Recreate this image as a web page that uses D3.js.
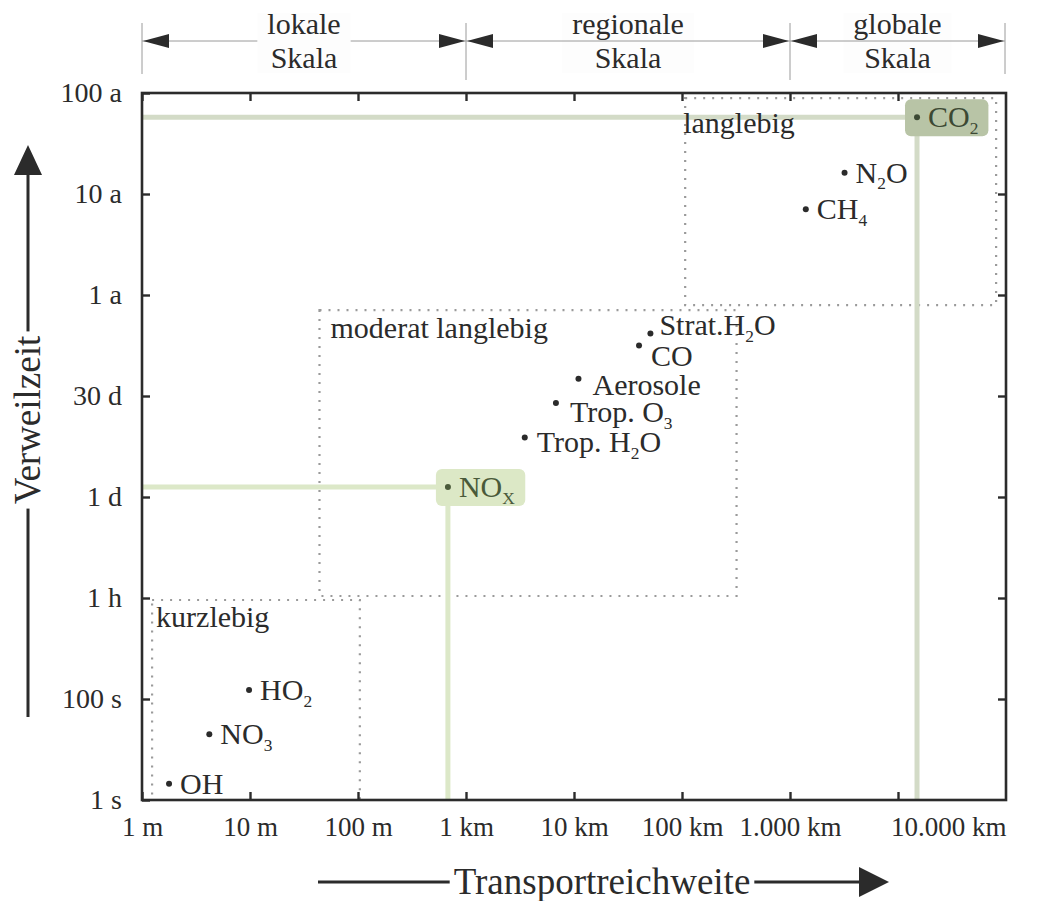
<!DOCTYPE html>
<html>
<head>
<meta charset="utf-8">
<script src="https://cdn.jsdelivr.net/npm/d3@7"></script>
<style>
  body { margin: 0; background: #fff; }
  svg text { font-family: "Liberation Serif", "DejaVu Serif", serif; fill: #2b2b2b; }
</style>
</head>
<body>
<svg id="chart" width="1056" height="901"></svg>
<script>
// --- data ---------------------------------------------------------------
// transport range in metres, residence time as level on the stepped axis
var xTicks = [1, 10, 100, 1e3, 1e4, 1e5, 1e6, 1e7];
var xTickLabels = ["1 m", "10 m", "100 m", "1 km", "10 km", "100 km", "1.000 km", "10.000 km"];
var yTickLabels = ["1 s", "100 s", "1 h", "1 d", "30 d", "1 a", "10 a", "100 a"];

// "_x" marks a subscript character
var substances = ["OH", "NO_3", "HO_2", "NO_X", "Trop. H_2O", "Trop. O_3", "Aerosole", "CO", "Strat.H_2O", "CH_4", "N_2O", "CO_2"];
var transportRange = [1.78, 4.2, 9.8, 680, 3500, 6800, 11000, 40000, 51000, 1.4e6, 3.2e6, 1.5e7];
var residenceLevel = [0.16, 0.65, 1.09, 3.10, 3.59, 3.93, 4.17, 4.50, 4.62, 5.85, 6.21, 6.76];
var highlighted = { "NO_X": "light", "CO_2": "dark" };

var zoneNames = ["kurzlebig", "moderat langlebig", "langlebig"];
var zoneRange = [[1.24, 104], [44, 3.2e5], [1.07e5, 8.1e7]];
var zoneLevel = [[0, 1.98], [2.02, 4.85], [4.9, 6.95]];

var scaleNames = [["lokale", "Skala"], ["regionale", "Skala"], ["globale", "Skala"]];
var scaleBounds = [[1, 1e3], [1e3, 1e6], [1e6, 1e8]];

// --- layout -------------------------------------------------------------
var svg = d3.select("#chart");
var pLeft = 142, pRight = 1006, pTop = 93, pBottom = 800;
var ink = "#2b2b2b";

var x = d3.scaleLog().domain([1, 1e8]).range([pLeft, pRight]);
var y = d3.scaleLinear().domain([0, 7]).range([pBottom, pTop]);

// small nudges for label placement (pixels)
var labelNudge = { "Strat.H_2O": [9, -8], "CO": [12, 10], "Aerosole": [14, 6], "Trop. O_3": [14, 9], "Trop. H_2O": [12, 5] };

function richText(sel, str, size) {
  var parts = str.split(/(_.)/).filter(function(s) { return s; });
  var shift = 0;
  parts.forEach(function(p) {
    if (p[0] === "_") {
      sel.append("tspan").attr("font-size", size * 0.58).attr("dy", size * 0.22).text(p[1]);
      shift = size * 0.22;
    } else {
      sel.append("tspan").attr("dy", -shift).text(p);
      shift = 0;
    }
  });
}

// zones (dotted boxes)
var zones = svg.append("g");
zoneNames.forEach(function(name, i) {
  var x0 = x(zoneRange[i][0]), x1 = x(zoneRange[i][1]);
  var y0 = y(zoneLevel[i][1]), y1 = y(zoneLevel[i][0]);
  zones.append("rect")
    .attr("x", x0).attr("y", y0).attr("width", x1 - x0).attr("height", y1 - y0)
    .attr("fill", "none").attr("stroke", "#9a9a9a").attr("stroke-width", 2.2)
    .attr("stroke-dasharray", "2,7");
});

// highlight lines
var hiColors = { light: { line: "#dce8c8", box: "#dce8c6", text: "#4a5a3a" },
                 dark: { line: "#d3dbc7", box: "#b8c4a6", text: "#3c4934" } };
var hl = svg.append("g");
substances.forEach(function(s, i) {
  var kind = highlighted[s];
  if (!kind) return;
  var px = x(transportRange[i]), py = y(residenceLevel[i]);
  hl.append("line").attr("x1", pLeft).attr("x2", px).attr("y1", py).attr("y2", py)
    .attr("stroke", hiColors[kind].line).attr("stroke-width", 5);
  hl.append("line").attr("x1", px).attr("x2", px).attr("y1", py).attr("y2", pBottom)
    .attr("stroke", hiColors[kind].line).attr("stroke-width", 5);
});

// zone labels
zoneNames.forEach(function(name, i) {
  var x0 = x(zoneRange[i][0]), y0 = y(zoneLevel[i][1]);
  var off = i === 2 ? [-2, 35] : (i === 1 ? [11, 28] : [4, 27]);
  svg.append("text").attr("x", x0 + off[0]).attr("y", y0 + off[1])
    .attr("font-size", 30).text(name);
});

// points + labels
var pts = svg.append("g");
substances.forEach(function(s, i) {
  var px = x(transportRange[i]), py = y(residenceLevel[i]);
  var kind = highlighted[s];
  var g = pts.append("g");
  var nud = labelNudge[s] || [11, 0];
  var t = g.append("text").attr("x", px + nud[0]).attr("y", py + nud[1] + 10)
    .attr("font-size", 30);
  richText(t, s, 30);
  if (kind) {
    t.style("fill", hiColors[kind].text);
    var bb = t.node().getBBox();
    g.insert("rect", "text")
      .attr("x", px - 12).attr("y", py - 18)
      .attr("width", bb.x + bb.width + 10 - (px - 12)).attr("height", 37)
      .attr("rx", 6).attr("fill", hiColors[kind].box);
  }
  g.append("circle").attr("cx", px).attr("cy", py).attr("r", 3)
    .attr("fill", kind ? hiColors[kind].text : ink);
});

// axes with inward ticks
var fmtX = function(d) { return xTickLabels[xTicks.indexOf(d)]; };
var gx = svg.append("g").attr("transform", "translate(0," + pBottom + ")")
  .call(d3.axisBottom(x).tickValues(xTicks).tickFormat(fmtX).tickSize(-8).tickPadding(17));
gx.selectAll("text").attr("font-size", 27).style("font-family", null)
  .filter(function(d) { return d === 1e7; })
  .attr("text-anchor", "end").attr("x", pRight - x(1e7));
svg.append("g").attr("transform", "translate(0," + pTop + ")")
  .call(d3.axisTop(x).tickValues(xTicks).tickFormat("").tickSize(-8));

var gy = svg.append("g").attr("transform", "translate(" + pLeft + ",0)")
  .call(d3.axisLeft(y).tickValues(d3.range(8)).tickFormat(function(d) { return yTickLabels[d]; })
    .tickSize(-8).tickPadding(20));
gy.selectAll("text").attr("font-size", 28).style("font-family", null);
svg.append("g").attr("transform", "translate(" + pRight + ",0)")
  .call(d3.axisRight(y).tickValues(d3.range(1, 7)).tickFormat("").tickSize(-8));

svg.selectAll(".domain").remove();
svg.selectAll(".tick line").attr("stroke", ink).attr("stroke-width", 2.4);
svg.selectAll(".tick text").attr("fill", ink);

svg.append("rect").attr("x", pLeft).attr("y", pTop)
  .attr("width", pRight - pLeft).attr("height", pBottom - pTop)
  .attr("fill", "none").attr("stroke", ink).attr("stroke-width", 2.6);

// --- scale bars on top --------------------------------------------------
var barY = 41;
var scaleG = svg.append("g");
function arrowHead(g, tipX, tipY, dir, len, half) {
  var p;
  if (dir === "left") p = [[tipX, tipY], [tipX + len, tipY - half], [tipX + len, tipY + half]];
  if (dir === "right") p = [[tipX, tipY], [tipX - len, tipY - half], [tipX - len, tipY + half]];
  if (dir === "up") p = [[tipX, tipY], [tipX - half, tipY + len], [tipX + half, tipY + len]];
  g.append("path").attr("d", "M" + p.join("L") + "Z").attr("fill", ink);
}
scaleBounds.forEach(function(b, i) {
  var x0 = x(b[0]), x1 = x(b[1]) - (i === 2 ? 1 : 0);
  scaleG.append("line").attr("x1", x0).attr("x2", x1).attr("y1", barY).attr("y2", barY)
    .attr("stroke", "#9a9a9a").attr("stroke-width", 1);
  arrowHead(scaleG, x0 + 1, barY, "left", 26, 7);
  arrowHead(scaleG, x1 - 1, barY, "right", 26, 7);
  var cx = (x0 + x1) / 2;
  var txt = scaleG.append("text").attr("text-anchor", "middle").attr("font-size", 30);
  txt.append("tspan").attr("x", cx).attr("y", 34).text(scaleNames[i][0]);
  txt.append("tspan").attr("x", cx).attr("y", 68).text(scaleNames[i][1]);
  var bb = txt.node().getBBox();
  scaleG.insert("rect", "text").attr("x", bb.x - 10).attr("y", 13)
    .attr("width", bb.width + 20).attr("height", 60).attr("fill", "#fdfdfd");
});
[1, 1e3, 1e6, 1e8].forEach(function(v, i) {
  var xx = x(v) - (i === 3 ? 1 : 0);
  var inner = i === 1 || i === 2;
  scaleG.append("line").attr("x1", xx).attr("x2", xx)
    .attr("y1", 23).attr("y2", inner ? 80 : 74)
    .attr("stroke", "#9a9a9a").attr("stroke-width", 1);
});

// --- axis titles with arrows ---------------------------------------------
var yt = svg.append("g");
yt.append("line").attr("x1", 28).attr("x2", 28).attr("y1", 717).attr("y2", 172)
  .attr("stroke", ink).attr("stroke-width", 3);
arrowHead(yt, 28, 145, "up", 30, 14);
var ytxt = yt.append("text").attr("transform", "translate(40,420) rotate(-90)")
  .attr("text-anchor", "middle").attr("font-size", 37).text("Verweilzeit");
var yb = ytxt.node().getBBox();
yt.insert("rect", "text").attr("x", 13).attr("y", 420 - yb.width / 2 - 4)
  .attr("width", 34).attr("height", yb.width + 8).attr("fill", "#fff");

var xt = svg.append("g");
xt.append("line").attr("x1", 318).attr("x2", 862).attr("y1", 882).attr("y2", 882)
  .attr("stroke", ink).attr("stroke-width", 3);
arrowHead(xt, 889, 882, "right", 30, 15);
var xtxt = xt.append("text").attr("x", 602).attr("y", 894)
  .attr("text-anchor", "middle").attr("font-size", 37).text("Transportreichweite");
var xb = xtxt.node().getBBox();
xt.insert("rect", "text").attr("x", xb.x - 4).attr("y", 866)
  .attr("width", xb.width + 8).attr("height", 34).attr("fill", "#fff");
</script>
</body>
</html>
